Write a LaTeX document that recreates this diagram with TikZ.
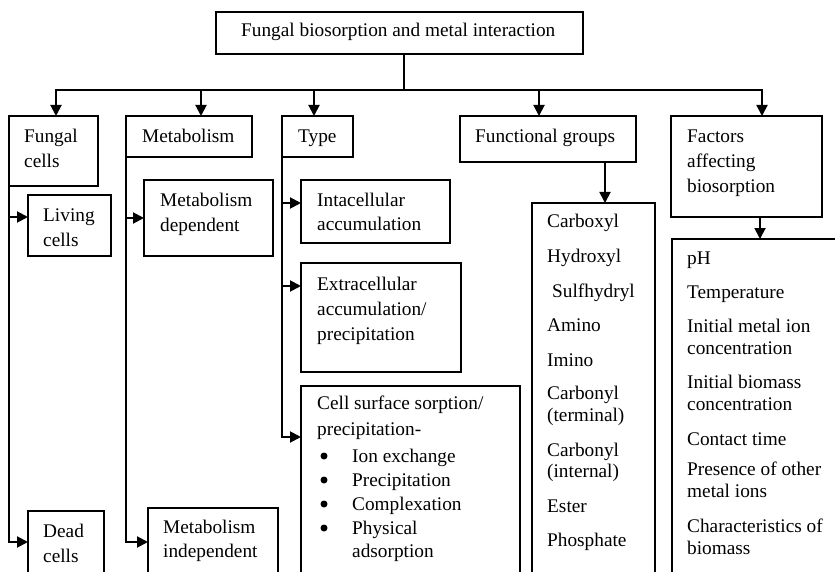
\documentclass[tikz,border=0pt]{standalone}
\usepackage{fontspec}
\setmainfont{Liberation Serif}
\usetikzlibrary{arrows.meta,calc}
\begin{document}
\begin{tikzpicture}[x=1pt,y=-1pt,
  box/.style={draw, line width=1.9pt, anchor=north west, inner sep=0pt, outer sep=0pt},
  txt/.style={anchor=base west, inner sep=0pt, font=\fontsize{19.3}{23}\selectfont},
  dot/.style={circle, fill=black, inner sep=0pt, minimum size=7pt},
  wire/.style={line width=1.9pt, line cap=rect},
  arr/.style={line width=1.9pt, -{Triangle[length=11pt,width=11pt]}}]

\clip (0,0) rectangle (835,572);

% ---- boxes ----
\node[box, minimum width=367pt, minimum height=42pt] (top) at (216,12) {};
\node[box, minimum width=89pt,  minimum height=70pt] (fc)   at (9,116) {};
\node[box, minimum width=126pt, minimum height=41pt] (met)  at (126,116) {};
\node[box, minimum width=71pt,  minimum height=41pt] (type) at (282,116) {};
\node[box, minimum width=176pt, minimum height=46pt] (fg)   at (460,116) {};
\node[box, minimum width=151pt, minimum height=101pt] (fac) at (671,116) {};

\node[box, minimum width=83pt,  minimum height=61pt] (living) at (28,195) {};
\node[box, minimum width=76pt,  minimum height=90pt] (dead)   at (28,511) {};
\node[box, minimum width=129pt, minimum height=76pt] (mdep)   at (144,180) {};
\node[box, minimum width=130pt, minimum height=95pt] (mind)   at (148,508) {};
\node[box, minimum width=149pt, minimum height=63pt] (intra)  at (301,180) {};
\node[box, minimum width=160pt, minimum height=109pt] (extra) at (301,263) {};
\node[box, minimum width=219pt, minimum height=220pt] (surf)  at (301,386) {};
\node[box, minimum width=123pt, minimum height=400pt] (fglist)  at (532,203) {};
\node[box, minimum width=180pt, minimum height=360pt] (faclist) at (672,239) {};

% ---- top distribution bus ----
\coordinate (trunk) at (404,90);
\coordinate (b1) at (56,90);
\coordinate (b2) at (201,90);
\coordinate (b3) at (314,90);
\coordinate (b4) at (539,90);
\coordinate (b5) at (762,90);
\draw[wire] (top.south -| trunk) -- (trunk);
\draw[wire] (b1) -- (b5);
\draw[arr] (b1) -- (b1 |- fc.north);
\draw[arr] (b2) -- (b2 |- met.north);
\draw[arr] (b3) -- (b3 |- type.north);
\draw[arr] (b4) -- (b4 |- fg.north);
\draw[arr] (b5) -- (b5 |- fac.north);

% ---- lists below functional groups and factors ----
\coordinate (fgx) at (605,0);
\coordinate (facx) at (760,0);
\draw[arr] (fg.south -| fgx) -- (fglist.north -| fgx);
\draw[arr] (fac.south -| facx) -- (faclist.north -| facx);

% ---- side spines ----
\draw[arr] (fc.south west) |- ($(dead.north west)+(0,31)$);
\draw[arr] (fc.south west) |- ($(living.north west)+(0,22)$);
\draw[arr] (met.south west) |- ($(mind.north west)+(0,34)$);
\draw[arr] (met.south west) |- ($(mdep.north west)+(0,38)$);
\draw[arr] (type.south west) |- ($(surf.north west)+(0,51)$);
\draw[arr] (type.south west) |- ($(extra.north west)+(0,23)$);
\draw[arr] (type.south west) |- ($(intra.north west)+(0,23)$);

% ---- texts ----
\node[txt] (t-top) at (241,37) {Fungal biosorption and metal interaction};
\node[txt] (t-fc1) at (24,143) {Fungal};
\node[txt] (t-fc2) at (24,168) {cells};
\node[txt] (t-met) at (142,143) {Metabolism};
\node[txt] (t-type) at (298,143) {Type};
\node[txt] (t-fg) at (475,143) {Functional groups};
\node[txt] (t-fac1) at (687,143) {Factors};
\node[txt] (t-fac2) at (687,168) {affecting};
\node[txt] (t-fac3) at (687,193) {biosorption};

\node[txt] (t-liv1) at (43,222) {Living};
\node[txt] (t-liv2) at (43,247) {cells};
\node[txt] (t-dead1) at (43,537) {Dead};
\node[txt] (t-dead2) at (43,562) {cells};
\node[txt] (t-mdep1) at (160,207) {Metabolism};
\node[txt] (t-mdep2) at (160,232) {dependent};
\node[txt] (t-mind1) at (163,533) {Metabolism};
\node[txt] (t-mind2) at (163,557) {independent};
\node[txt] (t-intra1) at (317,207) {Intacellular};
\node[txt] (t-intra2) at (317,230) {accumulation};
\node[txt] (t-extra1) at (317,290) {Extracellular};
\node[txt] (t-extra2) at (317,315) {accumulation/};
\node[txt] (t-extra3) at (317,340) {precipitation};
\node[txt] (t-surf1) at (317,409) {Cell surface sorption/};
\node[txt] (t-surf2) at (317,435) {precipitation-};
\foreach \y/\t [count=\i] in {462/Ion exchange, 486/Precipitation, 510/Complexation, 534/Physical} {
  \node[dot] (t-bul\i) at (324,\y-6) {};
  \node[txt] (t-mode\i) at (352,\y) {\t};
}
\node[txt] (t-mode5) at (352,557) {adsorption};

\foreach \y/\t [count=\i] in {227/Carboxyl, 262/Hydroxyl, 331/Amino, 366/Imino,
    399/Carbonyl, 421/(terminal), 456/Carbonyl, 477/(internal), 512/Ester, 546/Phosphate} {
  \node[txt] (t-grp\i) at (547,\y) {\t};
}
\node[txt] (t-grp0) at (552,297) {Sulfhydryl};

\foreach \y/\t [count=\i] in {264/pH, 298/Temperature, 332/Initial metal ion, 354/concentration,
    388/Initial biomass, 410/concentration, 445/Contact time, 475/Presence of other,
    497/metal ions, 532/Characteristics of, 554/biomass} {
  \node[txt] (t-fct\i) at (687,\y) {\t};
}
\end{tikzpicture}
\end{document}
